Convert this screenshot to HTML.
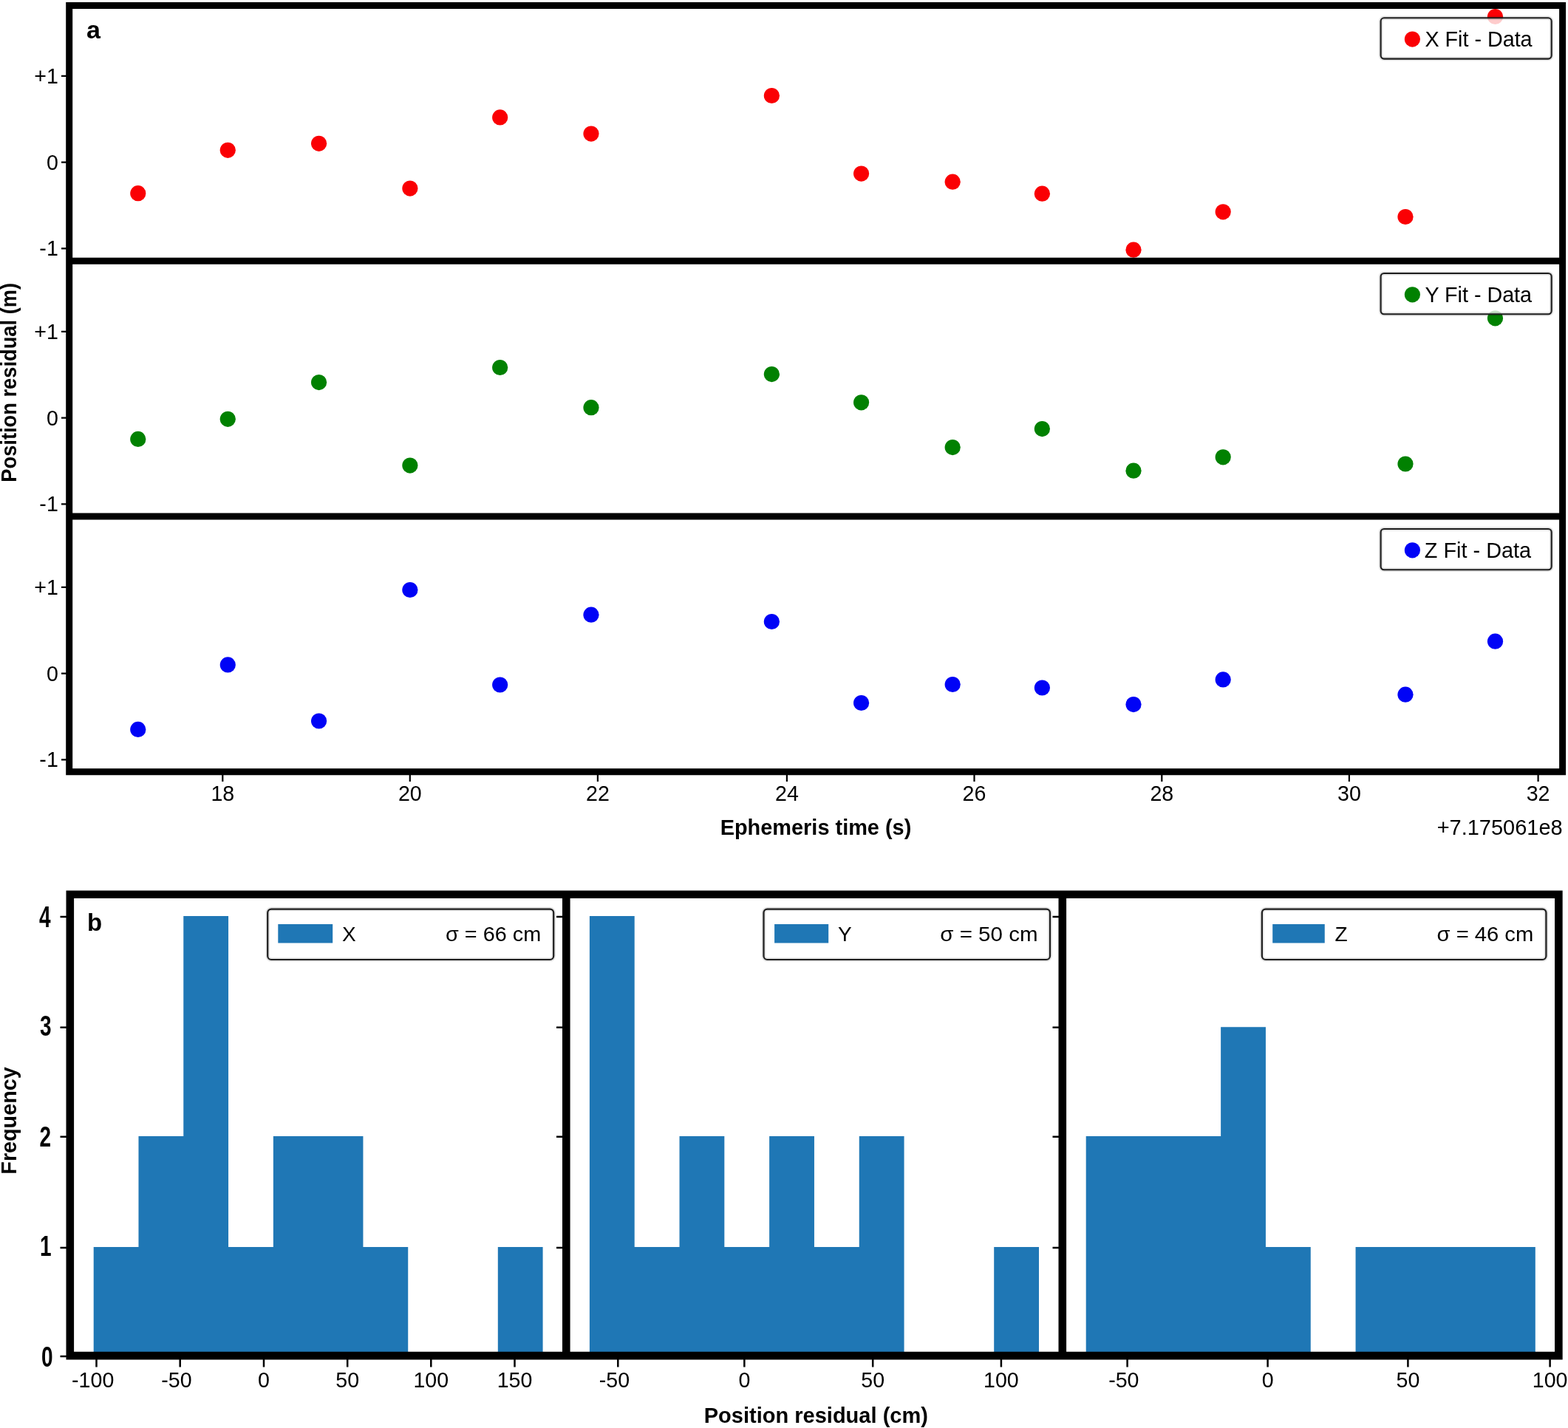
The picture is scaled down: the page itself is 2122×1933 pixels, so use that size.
<!DOCTYPE html>
<html><head><meta charset="utf-8"><title>Figure</title>
<style>html,body{margin:0;padding:0;background:#fff;width:2122px;height:1933px;overflow:hidden}svg{display:block}</style>
</head><body>
<svg width="2122" height="1933" viewBox="0 0 2122 1933">
<rect x="0" y="0" width="2122" height="1933" fill="#ffffff"/>
<clipPath id="ca0"><rect x="93.7" y="7.4" width="2020.8999999999999" height="345.90000000000003"/></clipPath>
<g clip-path="url(#ca0)">
<circle cx="186.8" cy="261.7" r="10.6" fill="#fa0004"/>
<circle cx="308.3" cy="203.3" r="10.6" fill="#fa0004"/>
<circle cx="431.6" cy="194.3" r="10.6" fill="#fa0004"/>
<circle cx="554.9" cy="255.1" r="10.6" fill="#fa0004"/>
<circle cx="676.7" cy="158.9" r="10.6" fill="#fa0004"/>
<circle cx="800.0" cy="181.1" r="10.6" fill="#fa0004"/>
<circle cx="1044.4" cy="129.5" r="10.6" fill="#fa0004"/>
<circle cx="1165.6" cy="235.1" r="10.6" fill="#fa0004"/>
<circle cx="1289.2" cy="246.2" r="10.6" fill="#fa0004"/>
<circle cx="1410.4" cy="262.2" r="10.6" fill="#fa0004"/>
<circle cx="1534.0" cy="338.2" r="10.6" fill="#fa0004"/>
<circle cx="1655.2" cy="286.8" r="10.6" fill="#fa0004"/>
<circle cx="1902.0" cy="293.5" r="10.6" fill="#fa0004"/>
<circle cx="2023.5" cy="22.5" r="10.6" fill="#fa0004"/>
</g>
<rect x="1868.6" y="24.3" width="231.10" height="55.3" rx="4.5" ry="4.5" fill="#ffffff" fill-opacity="0.8"/>
<rect x="1868.6" y="24.3" width="231.10" height="55.3" rx="4.5" ry="4.5" fill="none" stroke="#000" stroke-opacity="0.11" stroke-width="5.5"/>
<rect x="1868.6" y="24.3" width="231.10" height="55.3" rx="4.5" ry="4.5" fill="none" stroke="#1e1e1e" stroke-width="2.1"/>
<circle cx="1911.4" cy="53.1" r="10.6" fill="#fa0004"/>
<text x="1928.40" y="63.10" id="leg_a0" font-family='"Liberation Sans", Arial, Helvetica, sans-serif' font-size="28.6" textLength="145.19" lengthAdjust="spacingAndGlyphs" fill="#000">X Fit - Data</text>
<text x="78.80" y="112.80" id="yt_a00" font-family='"Liberation Sans", Arial, Helvetica, sans-serif' font-size="28.6" text-anchor="end" fill="#000">+1</text>
<text x="78.80" y="229.70" id="yt_a01" font-family='"Liberation Sans", Arial, Helvetica, sans-serif' font-size="28.6" text-anchor="end" fill="#000">0</text>
<text x="78.80" y="346.40" id="yt_a02" font-family='"Liberation Sans", Arial, Helvetica, sans-serif' font-size="28.6" text-anchor="end" fill="#000">-1</text>
<clipPath id="ca1"><rect x="93.7" y="353.3" width="2020.8999999999999" height="345.8"/></clipPath>
<g clip-path="url(#ca1)">
<circle cx="186.8" cy="594.4" r="10.6" fill="#018101"/>
<circle cx="308.3" cy="567.3" r="10.6" fill="#018101"/>
<circle cx="431.6" cy="517.6" r="10.6" fill="#018101"/>
<circle cx="554.9" cy="630.1" r="10.6" fill="#018101"/>
<circle cx="676.7" cy="497.5" r="10.6" fill="#018101"/>
<circle cx="800.0" cy="551.7" r="10.6" fill="#018101"/>
<circle cx="1044.4" cy="506.6" r="10.6" fill="#018101"/>
<circle cx="1165.6" cy="544.8" r="10.6" fill="#018101"/>
<circle cx="1289.2" cy="605.6" r="10.6" fill="#018101"/>
<circle cx="1410.4" cy="580.6" r="10.6" fill="#018101"/>
<circle cx="1534.0" cy="637.2" r="10.6" fill="#018101"/>
<circle cx="1655.2" cy="618.8" r="10.6" fill="#018101"/>
<circle cx="1902.0" cy="628.0" r="10.6" fill="#018101"/>
<circle cx="2023.5" cy="430.8" r="10.6" fill="#018101"/>
</g>
<rect x="1868.6" y="370.0" width="231.10" height="55.3" rx="4.5" ry="4.5" fill="#ffffff" fill-opacity="0.8"/>
<rect x="1868.6" y="370.0" width="231.10" height="55.3" rx="4.5" ry="4.5" fill="none" stroke="#000" stroke-opacity="0.11" stroke-width="5.5"/>
<rect x="1868.6" y="370.0" width="231.10" height="55.3" rx="4.5" ry="4.5" fill="none" stroke="#1e1e1e" stroke-width="2.1"/>
<circle cx="1911.4" cy="398.8" r="10.6" fill="#018101"/>
<text x="1928.45" y="408.80" id="leg_a1" font-family='"Liberation Sans", Arial, Helvetica, sans-serif' font-size="28.6" textLength="144.59" lengthAdjust="spacingAndGlyphs" fill="#000">Y Fit - Data</text>
<text x="78.80" y="458.80" id="yt_a10" font-family='"Liberation Sans", Arial, Helvetica, sans-serif' font-size="28.6" text-anchor="end" fill="#000">+1</text>
<text x="78.80" y="575.70" id="yt_a11" font-family='"Liberation Sans", Arial, Helvetica, sans-serif' font-size="28.6" text-anchor="end" fill="#000">0</text>
<text x="78.80" y="692.40" id="yt_a12" font-family='"Liberation Sans", Arial, Helvetica, sans-serif' font-size="28.6" text-anchor="end" fill="#000">-1</text>
<clipPath id="ca2"><rect x="93.7" y="699.1" width="2020.8999999999999" height="345.65"/></clipPath>
<g clip-path="url(#ca2)">
<circle cx="186.8" cy="987.4" r="10.6" fill="#0003f6"/>
<circle cx="308.3" cy="899.9" r="10.6" fill="#0003f6"/>
<circle cx="431.6" cy="976.0" r="10.6" fill="#0003f6"/>
<circle cx="554.9" cy="798.5" r="10.6" fill="#0003f6"/>
<circle cx="676.7" cy="927.0" r="10.6" fill="#0003f6"/>
<circle cx="800.0" cy="832.2" r="10.6" fill="#0003f6"/>
<circle cx="1044.4" cy="841.5" r="10.6" fill="#0003f6"/>
<circle cx="1165.6" cy="951.5" r="10.6" fill="#0003f6"/>
<circle cx="1289.2" cy="926.5" r="10.6" fill="#0003f6"/>
<circle cx="1410.4" cy="931.0" r="10.6" fill="#0003f6"/>
<circle cx="1534.0" cy="953.6" r="10.6" fill="#0003f6"/>
<circle cx="1655.2" cy="919.9" r="10.6" fill="#0003f6"/>
<circle cx="1902.0" cy="940.2" r="10.6" fill="#0003f6"/>
<circle cx="2023.5" cy="868.2" r="10.6" fill="#0003f6"/>
</g>
<rect x="1868.6" y="716.0" width="231.10" height="55.3" rx="4.5" ry="4.5" fill="#ffffff" fill-opacity="0.8"/>
<rect x="1868.6" y="716.0" width="231.10" height="55.3" rx="4.5" ry="4.5" fill="none" stroke="#000" stroke-opacity="0.11" stroke-width="5.5"/>
<rect x="1868.6" y="716.0" width="231.10" height="55.3" rx="4.5" ry="4.5" fill="none" stroke="#1e1e1e" stroke-width="2.1"/>
<circle cx="1911.4" cy="744.8" r="10.6" fill="#0003f6"/>
<text x="1927.85" y="754.80" id="leg_a2" font-family='"Liberation Sans", Arial, Helvetica, sans-serif' font-size="28.6" textLength="144.30" lengthAdjust="spacingAndGlyphs" fill="#000">Z Fit - Data</text>
<text x="78.80" y="804.80" id="yt_a20" font-family='"Liberation Sans", Arial, Helvetica, sans-serif' font-size="28.6" text-anchor="end" fill="#000">+1</text>
<text x="78.80" y="921.70" id="yt_a21" font-family='"Liberation Sans", Arial, Helvetica, sans-serif' font-size="28.6" text-anchor="end" fill="#000">0</text>
<text x="78.80" y="1038.40" id="yt_a22" font-family='"Liberation Sans", Arial, Helvetica, sans-serif' font-size="28.6" text-anchor="end" fill="#000">-1</text>
<text x="301.30" y="1084.00" id="xt_a18" font-family='"Liberation Sans", Arial, Helvetica, sans-serif' font-size="28.6" text-anchor="middle" fill="#000">18</text>
<text x="554.80" y="1084.00" id="xt_a20" font-family='"Liberation Sans", Arial, Helvetica, sans-serif' font-size="28.6" text-anchor="middle" fill="#000">20</text>
<text x="808.90" y="1084.00" id="xt_a22" font-family='"Liberation Sans", Arial, Helvetica, sans-serif' font-size="28.6" text-anchor="middle" fill="#000">22</text>
<text x="1064.90" y="1084.00" id="xt_a24" font-family='"Liberation Sans", Arial, Helvetica, sans-serif' font-size="28.6" text-anchor="middle" fill="#000">24</text>
<text x="1318.50" y="1084.00" id="xt_a26" font-family='"Liberation Sans", Arial, Helvetica, sans-serif' font-size="28.6" text-anchor="middle" fill="#000">26</text>
<text x="1572.30" y="1084.00" id="xt_a28" font-family='"Liberation Sans", Arial, Helvetica, sans-serif' font-size="28.6" text-anchor="middle" fill="#000">28</text>
<text x="1825.90" y="1084.00" id="xt_a30" font-family='"Liberation Sans", Arial, Helvetica, sans-serif' font-size="28.6" text-anchor="middle" fill="#000">30</text>
<text x="2081.60" y="1084.00" id="xt_a32" font-family='"Liberation Sans", Arial, Helvetica, sans-serif' font-size="28.6" text-anchor="middle" fill="#000">32</text>
<path d="M83.00 101.70H93.70V103.90H83.00ZM83.00 218.60H93.70V220.80H83.00ZM83.00 335.30H93.70V337.50H83.00ZM83.00 447.70H93.70V449.90H83.00ZM83.00 564.60H93.70V566.80H83.00ZM83.00 681.30H93.70V683.50H83.00ZM83.00 793.70H93.70V795.90H83.00ZM83.00 910.60H93.70V912.80H83.00ZM83.00 1027.30H93.70V1029.50H83.00ZM89.20 2.90H2119.10V11.90H89.20ZM89.20 348.80H2119.10V357.80H89.20ZM89.20 694.60H2119.10V703.60H89.20ZM89.20 1040.25H2119.10V1049.25H89.20ZM89.20 2.90H98.20V1049.25H89.20ZM2110.10 2.90H2119.10V1049.25H2110.10ZM300.20 1044.75H302.40V1058.00H300.20ZM553.70 1044.75H555.90V1058.00H553.70ZM807.80 1044.75H810.00V1058.00H807.80ZM1063.80 1044.75H1066.00V1058.00H1063.80ZM1317.40 1044.75H1319.60V1058.00H1317.40ZM1571.20 1044.75H1573.40V1058.00H1571.20ZM1824.80 1044.75H1827.00V1058.00H1824.80ZM2080.50 1044.75H2082.70V1058.00H2080.50Z" fill="#000"/>
<text x="2114.75" y="1130.00" id="offset" font-family='"Liberation Sans", Arial, Helvetica, sans-serif' font-size="28.6" text-anchor="end" textLength="170.10" lengthAdjust="spacingAndGlyphs" fill="#000">+7.175061e8</text>
<text x="1104.00" y="1129.80" id="xlabel_a" font-family='"Liberation Sans", Arial, Helvetica, sans-serif' font-size="29.2" font-weight="bold" text-anchor="middle" textLength="258.64" lengthAdjust="spacingAndGlyphs" fill="#000">Ephemeris time (s)</text>
<text transform="translate(21.90,517.80) rotate(-90)" id="ylabel_a" font-family='"Liberation Sans", Arial, Helvetica, sans-serif' font-size="29.2" font-weight="bold" text-anchor="middle" textLength="269.87" lengthAdjust="spacingAndGlyphs" fill="#000">Position residual (m)</text>
<text x="117.00" y="52.00" id="lab_a" font-family='"Liberation Sans", Arial, Helvetica, sans-serif' font-size="34" font-weight="bold" fill="#000">a</text>
<path d="M126.70,1835.10 L126.70,1687.90 L187.49,1687.90 L187.49,1537.90 L248.28,1537.90 L248.28,1239.90 L309.07,1239.90 L309.07,1687.90 L369.86,1687.90 L369.86,1537.90 L430.65,1537.90 L430.65,1537.90 L491.44,1537.90 L491.44,1687.90 L552.23,1687.90 L552.23,1835.10 Z" fill="#1f77b5"/>
<path d="M673.81,1835.10 L673.81,1687.90 L734.60,1687.90 L734.60,1835.10 Z" fill="#1f77b5"/>
<path d="M797.90,1835.10 L797.90,1239.90 L858.71,1239.90 L858.71,1687.90 L919.52,1687.90 L919.52,1537.90 L980.33,1537.90 L980.33,1687.90 L1041.14,1687.90 L1041.14,1537.90 L1101.95,1537.90 L1101.95,1687.90 L1162.76,1687.90 L1162.76,1537.90 L1223.57,1537.90 L1223.57,1835.10 Z" fill="#1f77b5"/>
<path d="M1345.19,1835.10 L1345.19,1687.90 L1406.00,1687.90 L1406.00,1835.10 Z" fill="#1f77b5"/>
<path d="M1469.70,1835.10 L1469.70,1537.90 L1530.51,1537.90 L1530.51,1537.90 L1591.32,1537.90 L1591.32,1537.90 L1652.13,1537.90 L1652.13,1390.20 L1712.94,1390.20 L1712.94,1687.90 L1773.75,1687.90 L1773.75,1835.10 Z" fill="#1f77b5"/>
<path d="M1834.56,1835.10 L1834.56,1687.90 L1895.37,1687.90 L1895.37,1687.90 L1956.18,1687.90 L1956.18,1687.90 L2016.99,1687.90 L2016.99,1687.90 L2077.80,1687.90 L2077.80,1835.10 Z" fill="#1f77b5"/>
<text id="yt_b0" transform="translate(71.50,1849.80) scale(1,1.4)" text-anchor="end" font-family='"Liberation Sans", Arial, Helvetica, sans-serif' font-size="28" font-weight="bold" fill="#000">0</text>
<text id="yt_b1" transform="translate(69.50,1699.50) scale(1,1.4)" text-anchor="end" font-family='"Liberation Sans", Arial, Helvetica, sans-serif' font-size="28" font-weight="bold" fill="#000">1</text>
<text id="yt_b2" transform="translate(69.00,1552.20) scale(1,1.4)" text-anchor="end" font-family='"Liberation Sans", Arial, Helvetica, sans-serif' font-size="28" font-weight="bold" fill="#000">2</text>
<text id="yt_b3" transform="translate(69.50,1401.50) scale(1,1.4)" text-anchor="end" font-family='"Liberation Sans", Arial, Helvetica, sans-serif' font-size="28" font-weight="bold" fill="#000">3</text>
<text id="yt_b4" transform="translate(68.50,1255.30) scale(1,1.45)" text-anchor="end" font-family='"Liberation Sans", Arial, Helvetica, sans-serif' font-size="28" font-weight="bold" fill="#000">4</text>
<text x="125.70" y="1878.00" id="xt_b0_-100" font-family='"Liberation Sans", Arial, Helvetica, sans-serif' font-size="28.6" text-anchor="middle" fill="#000">-100</text>
<text x="238.90" y="1878.00" id="xt_b0_-50" font-family='"Liberation Sans", Arial, Helvetica, sans-serif' font-size="28.6" text-anchor="middle" fill="#000">-50</text>
<text x="357.00" y="1878.00" id="xt_b0_0" font-family='"Liberation Sans", Arial, Helvetica, sans-serif' font-size="28.6" text-anchor="middle" fill="#000">0</text>
<text x="470.20" y="1878.00" id="xt_b0_50" font-family='"Liberation Sans", Arial, Helvetica, sans-serif' font-size="28.6" text-anchor="middle" fill="#000">50</text>
<text x="583.30" y="1878.00" id="xt_b0_100" font-family='"Liberation Sans", Arial, Helvetica, sans-serif' font-size="28.6" text-anchor="middle" fill="#000">100</text>
<text x="696.50" y="1878.00" id="xt_b0_150" font-family='"Liberation Sans", Arial, Helvetica, sans-serif' font-size="28.6" text-anchor="middle" fill="#000">150</text>
<text x="831.50" y="1878.00" id="xt_b1_-50" font-family='"Liberation Sans", Arial, Helvetica, sans-serif' font-size="28.6" text-anchor="middle" fill="#000">-50</text>
<text x="1007.35" y="1878.00" id="xt_b1_0" font-family='"Liberation Sans", Arial, Helvetica, sans-serif' font-size="28.6" text-anchor="middle" fill="#000">0</text>
<text x="1181.20" y="1878.00" id="xt_b1_50" font-family='"Liberation Sans", Arial, Helvetica, sans-serif' font-size="28.6" text-anchor="middle" fill="#000">50</text>
<text x="1354.90" y="1878.00" id="xt_b1_100" font-family='"Liberation Sans", Arial, Helvetica, sans-serif' font-size="28.6" text-anchor="middle" fill="#000">100</text>
<text x="1520.80" y="1878.00" id="xt_b2_-50" font-family='"Liberation Sans", Arial, Helvetica, sans-serif' font-size="28.6" text-anchor="middle" fill="#000">-50</text>
<text x="1715.60" y="1878.00" id="xt_b2_0" font-family='"Liberation Sans", Arial, Helvetica, sans-serif' font-size="28.6" text-anchor="middle" fill="#000">0</text>
<text x="1905.40" y="1878.00" id="xt_b2_50" font-family='"Liberation Sans", Arial, Helvetica, sans-serif' font-size="28.6" text-anchor="middle" fill="#000">50</text>
<text x="2097.60" y="1878.00" id="xt_b2_100" font-family='"Liberation Sans", Arial, Helvetica, sans-serif' font-size="28.6" text-anchor="middle" fill="#000">100</text>
<path d="M81.50 1834.75H90.50V1837.25H81.50ZM81.50 1687.75H90.50V1690.25H81.50ZM81.50 1537.45H90.50V1539.95H81.50ZM81.50 1389.55H90.50V1392.05H81.50ZM81.50 1239.75H90.50V1242.25H81.50ZM753.00 1834.75H762.00V1837.25H753.00ZM753.00 1687.75H762.00V1690.25H753.00ZM753.00 1537.45H762.00V1539.95H753.00ZM753.00 1389.55H762.00V1392.05H753.00ZM753.00 1239.75H762.00V1242.25H753.00ZM1424.50 1834.75H1433.50V1837.25H1424.50ZM1424.50 1687.75H1433.50V1690.25H1424.50ZM1424.50 1537.45H1433.50V1539.95H1424.50ZM1424.50 1389.55H1433.50V1392.05H1424.50ZM1424.50 1239.75H1433.50V1242.25H1424.50ZM129.25 1835.10H131.75V1850.50H129.25ZM242.45 1835.10H244.95V1850.50H242.45ZM355.75 1835.10H358.25V1850.50H355.75ZM468.95 1835.10H471.45V1850.50H468.95ZM582.05 1835.10H584.55V1850.50H582.05ZM695.25 1835.10H697.75V1850.50H695.25ZM835.05 1835.10H837.55V1850.50H835.05ZM1006.10 1835.10H1008.60V1850.50H1006.10ZM1179.95 1835.10H1182.45V1850.50H1179.95ZM1353.65 1835.10H1356.15V1850.50H1353.65ZM1524.35 1835.10H1526.85V1850.50H1524.35ZM1714.35 1835.10H1716.85V1850.50H1714.35ZM1904.15 1835.10H1906.65V1850.50H1904.15ZM2096.35 1835.10H2098.85V1850.50H2096.35ZM89.50 1205.40H2114.65V1216.00H89.50ZM89.50 1829.80H2114.65V1840.40H89.50ZM89.50 1205.40H100.10V1840.40H89.50ZM761.00 1205.40H771.60V1840.40H761.00ZM1432.50 1205.40H1443.10V1840.40H1432.50ZM2104.05 1205.40H2114.65V1840.40H2104.05Z" fill="#000"/>
<rect x="362.2" y="1230.6" width="387.00" height="68.40" rx="5" ry="5" fill="#ffffff" fill-opacity="0.8"/>
<rect x="362.2" y="1230.6" width="387.00" height="68.40" rx="5" ry="5" fill="none" stroke="#000" stroke-opacity="0.11" stroke-width="5.5"/>
<rect x="362.2" y="1230.6" width="387.00" height="68.40" rx="5" ry="5" fill="none" stroke="#1e1e1e" stroke-width="2.2"/>
<rect x="376.3" y="1251.0" width="73.90" height="25.5" fill="#1f77b5"/>
<text x="462.90" y="1274.20" id="lab_b0" font-family='"Liberation Sans", Arial, Helvetica, sans-serif' font-size="28" fill="#000">X</text>
<text x="732.20" y="1274.20" id="sig_b0" font-family='"Liberation Sans", Arial, Helvetica, sans-serif' font-size="28" text-anchor="end" textLength="129.16" lengthAdjust="spacingAndGlyphs" fill="#000">σ = 66 cm</text>
<rect x="1033.5" y="1230.6" width="387.50" height="68.40" rx="5" ry="5" fill="#ffffff" fill-opacity="0.8"/>
<rect x="1033.5" y="1230.6" width="387.50" height="68.40" rx="5" ry="5" fill="none" stroke="#000" stroke-opacity="0.11" stroke-width="5.5"/>
<rect x="1033.5" y="1230.6" width="387.50" height="68.40" rx="5" ry="5" fill="none" stroke="#1e1e1e" stroke-width="2.2"/>
<rect x="1048.1" y="1251.0" width="73.10" height="25.5" fill="#1f77b5"/>
<text x="1134.10" y="1274.20" id="lab_b1" font-family='"Liberation Sans", Arial, Helvetica, sans-serif' font-size="28" fill="#000">Y</text>
<text x="1404.50" y="1274.20" id="sig_b1" font-family='"Liberation Sans", Arial, Helvetica, sans-serif' font-size="28" text-anchor="end" textLength="132.25" lengthAdjust="spacingAndGlyphs" fill="#000">σ = 50 cm</text>
<rect x="1707.85" y="1230.6" width="384.55" height="68.40" rx="5" ry="5" fill="#ffffff" fill-opacity="0.8"/>
<rect x="1707.85" y="1230.6" width="384.55" height="68.40" rx="5" ry="5" fill="none" stroke="#000" stroke-opacity="0.11" stroke-width="5.5"/>
<rect x="1707.85" y="1230.6" width="384.55" height="68.40" rx="5" ry="5" fill="none" stroke="#1e1e1e" stroke-width="2.2"/>
<rect x="1722.2" y="1251.0" width="70.55" height="25.5" fill="#1f77b5"/>
<text x="1806.40" y="1274.20" id="lab_b2" font-family='"Liberation Sans", Arial, Helvetica, sans-serif' font-size="28" fill="#000">Z</text>
<text x="2075.30" y="1274.20" id="sig_b2" font-family='"Liberation Sans", Arial, Helvetica, sans-serif' font-size="28" text-anchor="end" textLength="130.79" lengthAdjust="spacingAndGlyphs" fill="#000">σ = 46 cm</text>
<text x="1104.30" y="1926.40" id="xlabel_b" font-family='"Liberation Sans", Arial, Helvetica, sans-serif' font-size="28.8" font-weight="bold" text-anchor="middle" textLength="303.25" lengthAdjust="spacingAndGlyphs" fill="#000">Position residual (cm)</text>
<text transform="translate(22.20,1517.00) rotate(-90)" id="ylabel_b" font-family='"Liberation Sans", Arial, Helvetica, sans-serif' font-size="29.4" font-weight="bold" text-anchor="middle" textLength="145.28" lengthAdjust="spacingAndGlyphs" fill="#000">Frequency</text>
<text x="118.00" y="1260.20" id="lab_b" font-family='"Liberation Sans", Arial, Helvetica, sans-serif' font-size="33" font-weight="bold" fill="#000">b</text>
</svg>
</body></html>
